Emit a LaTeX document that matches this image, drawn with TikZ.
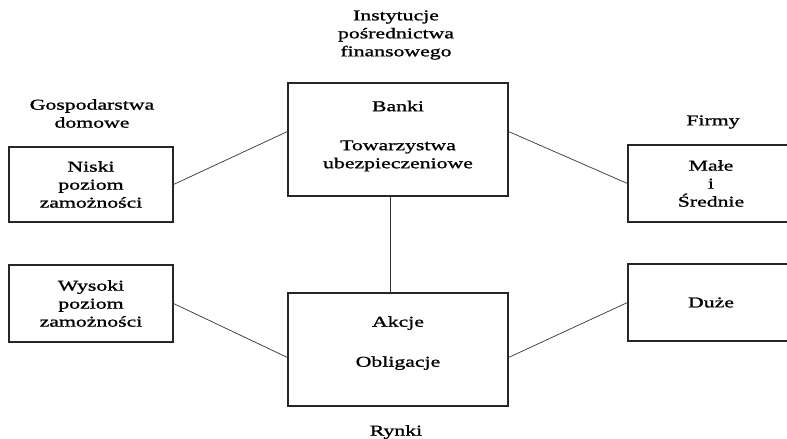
\documentclass[tikz,border=0pt]{standalone}
\usepackage{fontspec}
\setmainfont[FakeStretch=1.45,FakeBold=1.2]{Liberation Serif}
\usetikzlibrary{calc}
\newcommand\diagfs{\fontsize{15}{18}\selectfont}
\tikzset{
  box/.style={draw=black!85, line width=1.1pt, inner sep=0pt, align=center, font=\diagfs},
  lbl/.style={align=center, font=\diagfs, inner sep=0pt},
  conn/.style={draw=black!80, line width=0.7pt}
}
\begin{document}
\begin{tikzpicture}[x=1pt,y=-1pt]
\useasboundingbox (0,0) rectangle (787,439);
\clip (0,0) rectangle (787,439);
\fill[white] (0,0) rectangle (787,439);

\node[box, minimum width=164pt, minimum height=75pt] (niski) at (91,184.5) {Niski\\poziom\\zamożności};
\node[box, minimum width=164pt, minimum height=77pt] (wysoki) at (91,303.5) {Wysoki\\poziom\\zamożności};
\node[box, minimum width=220pt, minimum height=113pt, text depth=10pt] (bank) at (398,139.5) {Banki\\[21pt]Towarzystwa\\ubezpieczeniowe};
\node[box, minimum width=220pt, minimum height=113pt, text depth=16pt] (rynki) at (398,349.5) {Akcje\\[22pt]Obligacje};
\node[box, minimum width=166pt, minimum height=77pt] (male) at (711,183.5) {Małe\\i\\Średnie};
\node[box, minimum width=166pt, minimum height=77pt] (duze) at (711,302.5) {Duże};

\node[lbl] (inst) at (396,35) {Instytucje\\pośrednictwa\\finansowego};
\node[lbl] (gosp) at (92,113.5) {Gospodarstwa\\domowe};
\node[lbl] (firmy) at (713,122) {Firmy};
\node[lbl] (rynkilbl) at (396,432) {Rynki};

\draw[conn] (niski.east) -- ($(bank.north west)!0.43!(bank.south west)$);
\draw[conn] ($(bank.north east)!0.43!(bank.south east)$) -- (male.west);
\draw[conn] (wysoki.east) -- ($(rynki.north west)!0.57!(rynki.south west)$);
\draw[conn] ($(rynki.north east)!0.57!(rynki.south east)$) -- (duze.west);
\draw[conn] ($(bank.south)+(-8,0)$) -- ($(rynki.north)+(-8,0)$);
\end{tikzpicture}
\end{document}
